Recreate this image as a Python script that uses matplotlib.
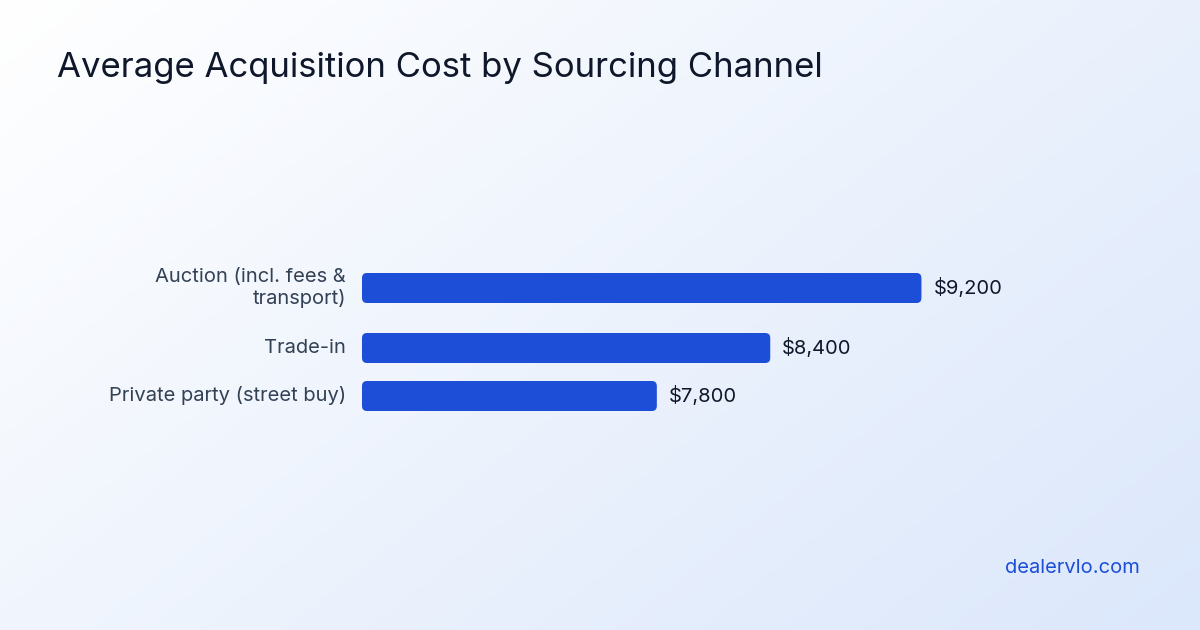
import numpy as np
import matplotlib.pyplot as plt
from matplotlib.patches import FancyBboxPatch

plt.rcParams['font.family'] = ['Inter', 'DejaVu Sans']

channels = ['Auction (incl. fees &\ntransport)', 'Trade-in', 'Private party (street buy)']
costs = [9200, 8400, 7800]
value_labels = ['$9,200', '$8,400', '$7,800']
ypos = [0, 1, 1.8]

fig = plt.figure(figsize=(12, 6.3), dpi=100)

# background gradient: white top-left -> light blue bottom-right
bg = fig.add_axes([0, 0, 1, 1])
gx, gy = np.meshgrid(np.linspace(0, 1, 300), np.linspace(0, 1, 160))
t = np.clip((gx * 0.6 + gy * 0.4), 0, 1)
c0 = np.array([1.0, 1.0, 1.0])
c1 = np.array([0xdb, 0xe7, 0xfb]) / 255
img = c0[None, None, :] * (1 - t[..., None]) + c1[None, None, :] * t[..., None]
bg.imshow(img, aspect='auto', extent=[0, 1, 0, 1], origin='upper')
bg.axis('off')

fig.text(57 / 1200, 1 - 68 / 630, 'Average Acquisition Cost by Sourcing Channel',
         fontsize=25, color='#0f172a', va='center', ha='left')
fig.text(1140 / 1200, 1 - 568 / 630, 'dealervlo.com', fontsize=14.5,
         color='#1d4ed8', ha='right', va='center')

# axes: left at x=362px, 0.189 px per dollar
lo = 6240
ax = fig.add_axes([362 / 1200, 1 - 420 / 630, 778 / 1200, 156 / 630])
ax.set_xlim(lo, lo + 778 / 0.189)
ax.set_ylim(1.8 + 0.4, -0.4)
ax.axis('off')

pxy = 156 / 2.6  # px per y unit
h = 30 / pxy
for y, c, lab, name in zip(ypos, costs, value_labels, channels):
    bar = FancyBboxPatch((lo, y - h / 2), c - lo, h,
                         boxstyle='round,pad=0,rounding_size=%f' % (5 / 0.189),
                         mutation_aspect=0.189 / pxy,
                         fc='#1d4ed8', ec='none')
    ax.add_patch(bar)
    ax.annotate(lab, (c, y), xytext=(12, 0), textcoords='offset pixels',
                va='center', ha='left', fontsize=14.5, color='#0f172a')
    ax.annotate(name, (lo, y), xytext=(-16, 0), textcoords='offset pixels',
                va='center', ha='right', fontsize=14.5, color='#334155',
                multialignment='right', annotation_clip=False)

fig.savefig('out.png', dpi=100)
